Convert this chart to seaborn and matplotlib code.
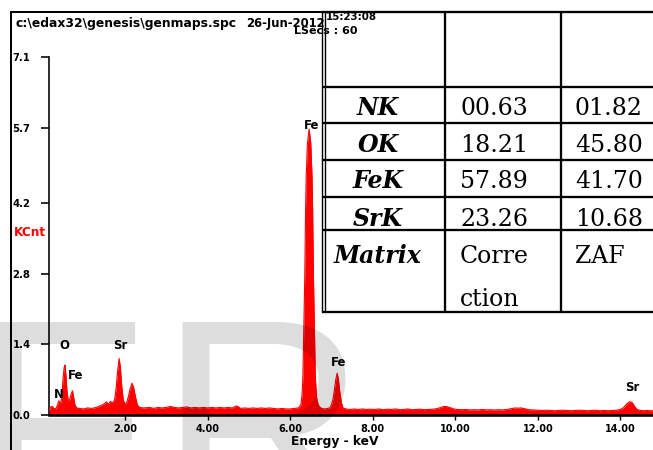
import matplotlib
matplotlib.use("Agg")
import matplotlib.pyplot as plt
import numpy as np
import pandas as pd
import seaborn as sns

# ---------------- data ----------------
energy_kev = [
    0.17, 0.20, 0.24, 0.28, 0.32, 0.36, 0.40, 0.44, 0.47, 0.50, 0.53, 0.55, 0.57, 0.60,
    0.63, 0.66, 0.70, 0.73, 0.76, 0.79, 0.83, 0.90, 1.00, 1.10, 1.20, 1.30, 1.40, 1.50,
    1.55, 1.60, 1.65, 1.70, 1.75, 1.79, 1.82, 1.86, 1.89, 1.92, 1.96, 2.00, 2.04, 2.08,
    2.12, 2.17, 2.21, 2.25, 2.30, 2.36, 2.45, 2.60, 2.70, 2.80, 2.90, 3.00, 3.10, 3.20,
    3.30, 3.40, 3.50, 3.60, 3.70, 3.80, 3.90, 4.00, 4.10, 4.20, 4.30, 4.40, 4.50, 4.60,
    4.70, 4.75, 4.80, 4.90, 5.00, 5.10, 5.20, 5.30, 5.40, 5.50, 5.60, 5.70, 5.80, 5.90,
    6.00, 6.10, 6.20, 6.26, 6.29, 6.31, 6.325, 6.355, 6.375, 6.39, 6.42, 6.46, 6.50,
    6.53, 6.545, 6.565, 6.595, 6.61, 6.64, 6.68, 6.74, 6.82, 6.90, 6.96, 7.00, 7.04,
    7.08, 7.11, 7.14, 7.17, 7.20, 7.24, 7.28, 7.35, 7.45, 7.55, 7.65, 7.75, 7.85, 7.95,
    8.05, 8.15, 8.25, 8.35, 8.45, 8.55, 8.65, 8.75, 8.85, 8.95, 9.05, 9.15, 9.25, 9.35,
    9.45, 9.55, 9.65, 9.72, 9.80, 9.88, 9.96, 10.05, 10.15, 10.25, 10.35, 10.45, 10.55,
    10.65, 10.75, 10.85, 10.95, 11.05, 11.15, 11.25, 11.35, 11.45, 11.52, 11.60, 11.68,
    11.78, 11.90, 12.00, 12.10, 12.20, 12.30, 12.40, 12.50, 12.60, 12.70, 12.80, 12.90,
    13.00, 13.10, 13.20, 13.30, 13.40, 13.50, 13.60, 13.70, 13.80, 13.90, 14.00, 14.08,
    14.15, 14.22, 14.28, 14.34, 14.40, 14.48, 14.56, 14.64, 14.72, 14.80,
]
counts_kcnt = [
    0.10, 0.16, 0.17, 0.13, 0.12, 0.18, 0.28, 0.22, 0.35, 0.70, 0.95, 0.99, 0.80, 0.45,
    0.28, 0.30, 0.42, 0.48, 0.35, 0.20, 0.14, 0.13, 0.12, 0.14, 0.13, 0.15, 0.18, 0.22,
    0.26, 0.21, 0.27, 0.24, 0.30, 0.55, 0.85, 1.12, 0.95, 0.60, 0.30, 0.22, 0.24, 0.35,
    0.50, 0.63, 0.55, 0.38, 0.20, 0.15, 0.14, 0.15, 0.13, 0.15, 0.14, 0.15, 0.17, 0.15,
    0.14, 0.15, 0.16, 0.14, 0.15, 0.14, 0.15, 0.14, 0.15, 0.14, 0.15, 0.14, 0.15, 0.14,
    0.18, 0.16, 0.13, 0.14, 0.13, 0.14, 0.13, 0.14, 0.13, 0.14, 0.13, 0.12, 0.13, 0.12,
    0.12, 0.13, 0.14, 0.20, 0.40, 0.76, 1.43, 2.74, 4.07, 4.73, 5.39, 5.67, 5.39,
    4.73, 4.07, 2.74, 1.43, 0.76, 0.35, 0.20, 0.14, 0.12, 0.13, 0.14, 0.20, 0.32,
    0.55, 0.72, 0.83, 0.70, 0.48, 0.25, 0.14, 0.12, 0.11, 0.12, 0.11, 0.12, 0.11, 0.115,
    0.11, 0.12, 0.105, 0.115, 0.11, 0.12, 0.105, 0.11, 0.12, 0.105, 0.11, 0.115, 0.105, 0.11,
    0.115, 0.125, 0.15, 0.17, 0.165, 0.145, 0.12, 0.11, 0.105, 0.11, 0.10, 0.105, 0.10,
    0.11, 0.10, 0.105, 0.10, 0.105, 0.10, 0.11, 0.125, 0.14, 0.135, 0.14, 0.125,
    0.105, 0.10, 0.095, 0.09, 0.095, 0.09, 0.085, 0.09, 0.095, 0.09, 0.085, 0.09,
    0.095, 0.09, 0.085, 0.09, 0.095, 0.085, 0.09, 0.085, 0.09, 0.095, 0.11, 0.15,
    0.22, 0.265, 0.25, 0.17, 0.11, 0.09, 0.085, 0.09, 0.085, 0.085,
]

peak_labels = ["N", "O", "Fe", "Sr", "Fe", "Fe", "Sr"]
peak_label_energy = [0.41, 0.54, 0.81, 1.89, 6.52, 7.18, 14.29]
peak_label_height = [0.40, 1.38, 0.78, 1.385, 5.75, 1.04, 0.545]

y_ticks = [0.0, 1.4, 2.8, 4.2, 5.7, 7.1]
y_tick_labels = ["0.0", "1.4", "2.8", "4.2", "5.7", "7.1"]
x_ticks = [2, 4, 6, 8, 10, 12, 14]
x_tick_labels = ["2.00", "4.00", "6.00", "8.00", "10.00", "12.00", "14.00"]

x_title = "Energy - keV"
y_title = "KCnt"
header_file = r"c:\edax32\genesis\genmaps.spc"
header_date = "26-Jun-2012"
header_time = "15:23:08"
header_line2 = "LSecs : 60"

table_elements = ["NK", "OK", "FeK", "SrK", "Matrix"]
table_col2 = ["00.63", "18.21", "57.89", "23.26", "Corre\nction"]
table_col3 = ["01.82", "45.80", "41.70", "10.68", "ZAF"]

watermark = ["F", "R"]

# ---------------- figure ----------------
sns.set_theme(style="white")
plt.rcParams["font.family"] = ["DejaVu Sans"]

W, H = 653, 450
fig = plt.figure(figsize=(W / 100, H / 100), dpi=100)
fig.patch.set_facecolor("white")

def px(v):
    return v * 72.0 / 100.0  # pixels -> points

ax = fig.add_axes([49 / W, 35 / H, 604 / W, 358 / H])
ax.set_facecolor("none")
df = pd.DataFrame({"Energy": energy_kev, "KCnt": counts_kcnt})
ax.fill_between(df["Energy"], 0, df["KCnt"], color="#ff0000", lw=0, zorder=2)
sns.lineplot(data=df, x="Energy", y="KCnt", color="#ff0000", lw=0.8, ax=ax, zorder=3)

ax.set_xlim(0.162, 14.787)
ax.set_ylim(0, 7.1)
ax.set_xlabel("")
ax.set_ylabel("")
for s in ["top", "right"]:
    ax.spines[s].set_visible(False)
ax.spines["bottom"].set_linewidth(px(2.6))
ax.spines["left"].set_linewidth(px(1.6))
ax.spines["bottom"].set_color("black")
ax.spines["left"].set_color("black")

ax.set_yticks(y_ticks)
ax.set_yticklabels(y_tick_labels, fontsize=7.3, fontweight="bold")
ax.set_xticks(x_ticks)
ax.set_xticklabels(x_tick_labels, fontsize=7.0, fontweight="bold")
ax.tick_params(axis="y", direction="out", length=px(8), width=px(1.6),
               pad=px(10.5), colors="black", left=True)
ax.tick_params(axis="x", direction="out", length=px(5), width=px(1.4),
               pad=px(4.5), colors="black", bottom=True)

for lab, e, h in zip(peak_labels, peak_label_energy, peak_label_height):
    ax.text(e, h, lab, ha="center", va="center", fontsize=8.4,
            fontweight="bold", color="black", zorder=5)

# ---------------- overlay in pixel coordinates ----------------
ov = fig.add_axes([0, 0, 1, 1])
ov.set_xlim(0, W)
ov.set_ylim(H, 0)
ov.axis("off")

# outer frame
ov.plot([11, 11], [12, H + 5], color="black", lw=px(2))
ov.plot([11, W + 5], [12, 12], color="black", lw=px(2))

# header text
ov.text(15.5, 26.5, header_file, ha="left", va="baseline", fontsize=8.9,
        fontweight="bold", color="black")
ov.text(246.5, 26.5, header_date, ha="left", va="baseline", fontsize=8.4,
        fontweight="bold", color="black")
ov.text(326, 20, header_time, ha="left", va="baseline", fontsize=7.4,
        fontweight="bold", color="black")
ov.text(358, 33.5, header_line2, ha="right", va="baseline", fontsize=8.0,
        fontweight="bold", color="black")

# axis titles
ov.text(335, 441, x_title, ha="center", va="center", fontsize=8.8,
        fontweight="bold", color="black")
ov.text(14, 232, y_title, ha="left", va="center", fontsize=8.7,
        fontweight="bold", color="#ff0000")

# table
row_lines = [12.3, 86.7, 123.3, 160, 196.7, 230, 311.7]
for yy in row_lines:
    ov.plot([321.7, W + 5], [yy, yy], color="black", lw=px(2.3), solid_capstyle="butt")
ov.plot([321.7, 321.7], [12.3, 311.7], color="black", lw=px(1.4))
ov.plot([325.3, 325.3], [12.3, 311.7], color="black", lw=px(1.4))
for xx in [445, 560.7]:
    ov.plot([xx, xx], [12.3, 311.7], color="black", lw=px(2.3))

baselines = [115, 151.7, 188.3, 226, 263.3]
for i, (el, c2, c3) in enumerate(zip(table_elements, table_col2, table_col3)):
    b = baselines[i]
    ov.text(378, b, el, ha="center", va="baseline", fontsize=17,
            family="DejaVu Serif", fontweight="bold", style="italic", color="black")
    lines2 = c2.split("\n")
    for j, t in enumerate(lines2):
        ov.text(460, b + j * 42.7, t, ha="left", va="baseline", fontsize=17,
                family="DejaVu Serif", color="black")
    ov.text(575, b, c3, ha="left", va="baseline", fontsize=17,
            family="DejaVu Serif", color="black")

# watermark (semi-transparent, on top)
ov.text(-30, 519, watermark[0], ha="left", va="baseline", fontsize=207,
        family="Liberation Sans", color="black", alpha=0.135, zorder=20)
ov.text(158, 519, watermark[1], ha="left", va="baseline", fontsize=207,
        family="Liberation Sans", color="black", alpha=0.135, zorder=20)

fig.savefig("out.png", dpi=100)
